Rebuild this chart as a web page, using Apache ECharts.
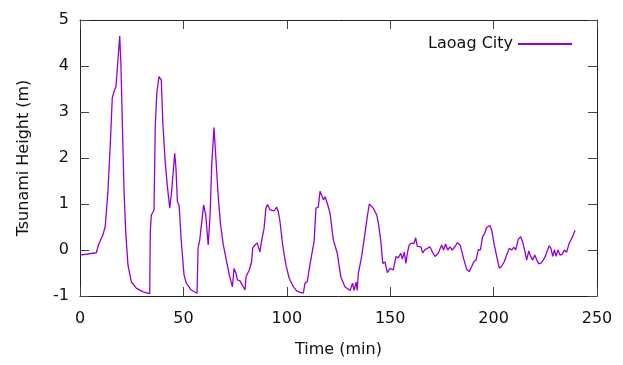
<!DOCTYPE html>
<html><head><meta charset="utf-8">
<script src="https://cdn.jsdelivr.net/npm/echarts@6/dist/echarts.min.js"></script>
<style>html,body{margin:0;padding:0;background:#fff}#c{width:623px;height:365px}</style>
</head><body><div id="c"></div>
<script>
var seriesName = 'Laoag City';
var xTicks = [0, 50, 100, 150, 200, 250];
var yTicks = [-1, 0, 1, 2, 3, 4, 5];
var timeMin = [0,7.9,9.0,9.9,11.1,12.2,13.5,14.7,15.6,16.4,17.4,18.4,19.2,19.8,20.5,21.3,22.1,23.2,24.8,27.2,30.5,33.7,34.0,34.5,35.8,36.4,37.2,38.2,39.0,39.3,40.1,41.3,42.2,43.4,44.3,45.1,45.8,46.4,47.1,47.9,49.0,50.3,51.4,53.8,56.6,57.1,57.9,58.3,59.8,60.8,62.0,62.9,63.7,64.8,65.6,66.9,68.0,69.3,70.6,72.2,73.7,74.5,75.4,76.1,77.4,79.8,80.3,81.9,83.0,83.5,84.6,85.7,87.0,87.9,89.0,89.9,90.7,91.9,92.6,93.8,95.1,95.9,96.7,98.0,99.6,101.2,103.2,104.8,106.4,108.0,108.8,109.9,110.9,112.0,113.2,114.1,115.2,116.1,116.9,117.7,118.5,119.6,120.9,122.5,124.4,126.1,128.1,130.6,131.8,132.5,133.5,134.0,134.6,136.2,137.8,138.9,139.9,140.6,141.8,142.5,143.5,144.3,145.4,146.4,147.5,148.6,149.9,151.5,152.8,153.9,155.1,155.9,156.8,157.6,158.3,159.2,160.3,161.5,162.3,163.1,163.9,164.8,165.7,166.8,167.8,169.2,170.5,171.7,173.2,174.9,175.8,176.8,177.8,178.9,180.0,181.3,182.5,183.8,184.6,185.7,187.0,188.2,189.4,190.5,191.5,192.6,193.6,194.7,195.6,196.6,197.3,198.3,199.1,200.2,201.5,202.8,203.9,205.2,206.3,207.6,208.7,209.8,210.7,211.9,213.1,214.0,215.2,216.0,217.0,217.9,218.9,219.9,220.9,221.8,223.0,224.0,225.0,225.9,226.9,227.7,228.6,229.4,230.2,231.1,232.1,233.2,234.2,235.3,236.5,237.4,238.2,239.4];
var heightM = [-0.11,-0.06,0.12,0.09,0.33,0.51,1.27,2.35,3.30,3.44,3.55,4.17,4.65,4.02,2.72,1.27,0.40,-0.33,-0.69,-0.83,-0.91,-0.95,0.40,0.76,0.87,2.72,3.44,3.77,3.80,3.70,2.72,1.85,1.41,0.91,1.27,1.30,2.10,1.78,1.05,0.98,0.18,-0.54,-0.72,-0.87,-0.94,0.04,0.22,0.25,0.98,0.76,0.11,0.76,1.85,2.66,2.07,1.12,0.54,0.11,-0.18,-0.54,-0.80,-0.40,-0.50,-0.65,-0.67,-0.87,-0.58,-0.43,-0.25,0.04,0.11,0.15,-0.04,0.22,0.47,0.91,0.99,0.87,0.91,0.85,0.93,0.83,0.62,0.11,-0.33,-0.62,-0.80,-0.89,-0.92,-0.94,-0.72,-0.69,-0.40,-0.11,0.18,0.91,0.93,1.28,1.24,1.09,1.16,1.01,0.80,0.22,-0.07,-0.58,-0.80,-0.88,-0.72,-0.88,-0.70,-0.88,-0.51,-0.14,0.36,0.72,1.00,1.02,0.91,0.93,0.76,0.58,0.22,-0.29,-0.26,-0.49,-0.40,-0.43,-0.14,-0.17,-0.07,-0.20,-0.04,-0.29,-0.07,0.11,0.15,0.14,0.27,0.08,0.04,0.07,-0.06,0.01,0.03,0.07,-0.05,-0.14,-0.07,0.11,0.00,0.13,0.00,0.07,0.00,0.07,0.16,0.11,0.07,-0.22,-0.42,-0.47,-0.36,-0.25,-0.22,0.01,0.00,0.29,0.35,0.49,0.45,0.53,0.43,0.14,-0.14,-0.40,-0.35,-0.25,-0.11,0.04,0.00,0.06,0.00,0.23,0.29,0.18,-0.04,-0.22,-0.02,-0.14,-0.22,-0.11,-0.22,-0.30,-0.28,-0.22,-0.14,-0.02,0.09,0.04,-0.14,0.01,-0.14,0.00,-0.11,-0.09,0.00,-0.05,0.14,0.18,0.29,0.43];

var font = 'DejaVu Sans';
var xMin = xTicks[0], xMax = xTicks[xTicks.length-1], yMin = yTicks[0], yMax = yTicks[yTicks.length-1];
var pts = timeMin.map(function(t, i){ return [t, heightM[i]]; });
var chart = echarts.init(document.getElementById('c'), null, {renderer: 'canvas'});
function ticks() { return {show: true, inside: true, length: 9, lineStyle: {color: '#444', width: 1}}; }
function line(anchorIdx) { return {show: true, onZero: true, onZeroAxisIndex: anchorIdx, lineStyle: {color: '#222', width: 1}}; }
function anchor(lo, hi) { return {type: 'value', min: lo, max: hi, show: false, splitLine: {show: false}}; }
chart.setOption({
  animation: false,
  backgroundColor: '#fff',
  grid: {left: 80, right: 26, top: 20, bottom: 69},
  legend: {
    right: 46, top: 31, align: 'right', itemWidth: 54, itemHeight: 2, itemGap: 10,
    icon: 'rect',
    textStyle: {fontFamily: font, fontSize: 16, color: '#111'},
    data: [seriesName]
  },
  xAxis: [{
    type: 'value', position: 'bottom', min: xMin, max: xMax, interval: 50,
    name: 'Time (min)', nameLocation: 'middle', nameGap: 46,
    nameTextStyle: {fontFamily: font, fontSize: 16, color: '#111'},
    axisLine: line(1), axisTick: ticks(), splitLine: {show: false},
    axisLabel: {fontFamily: font, fontSize: 16, color: '#111', margin: 15}
  }, {
    type: 'value', position: 'top', min: xMin, max: xMax, interval: 50,
    axisLine: line(2), axisTick: ticks(), splitLine: {show: false}, axisLabel: {show: false}
  }, anchor(-1, 0)],
  yAxis: [{
    type: 'value', position: 'left', min: yMin, max: yMax, interval: 1,
    name: 'Tsunami Height (m)', nameLocation: 'middle', nameGap: 48,
    nameTextStyle: {fontFamily: font, fontSize: 16, color: '#111'},
    axisLine: line(0), axisTick: ticks(), splitLine: {show: false},
    axisLabel: {fontFamily: font, fontSize: 16, color: '#111', margin: 11}
  }, anchor(0, 1), anchor(-1, 0), {
    type: 'value', position: 'right', min: yMin, max: yMax, interval: 1,
    axisLine: line(2), axisTick: ticks(), splitLine: {show: false}, axisLabel: {show: false}
  }],
  series: [{
    name: seriesName, type: 'line', xAxisIndex: 0, yAxisIndex: 0, data: pts, showSymbol: false, symbol: 'none',
    lineStyle: {color: '#9400D3', width: 1.3}, itemStyle: {color: '#9400D3'}, z: 5
  }]
});
</script></body></html>
